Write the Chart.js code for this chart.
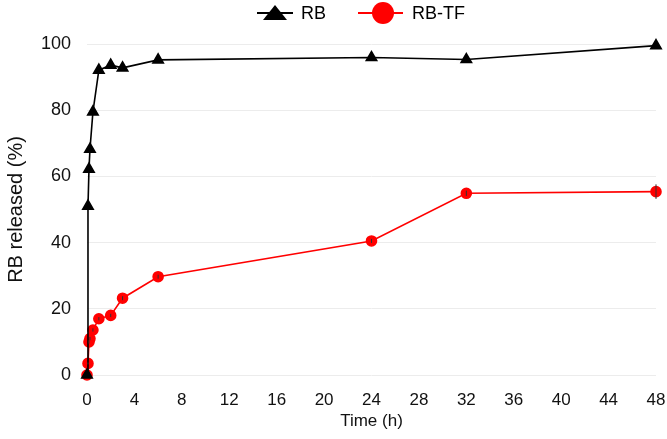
<!DOCTYPE html>
<html>
<head>
<meta charset="utf-8">
<script src="https://cdn.jsdelivr.net/npm/chart.js@4/dist/chart.umd.min.js"></script>
<style>
  html, body { margin: 0; padding: 0; background: #fff; }
  #wrap { width: 667px; height: 439px; }
</style>
</head>
<body>
<div id="wrap"><canvas id="release_chart"></canvas></div>
<script>
// sampling times (h)
const times = [0, 0.083, 0.167, 0.25, 0.5, 1, 2, 3, 6, 24, 32, 48];
const rb = [0, 51, 62.2, 68.2, 79.5, 92.1, 93.6, 92.8, 95.2, 95.9, 95.3, 99.5];
const rbTf = [0, 3.5, 10, 11, 13.6, 17, 18, 23.2, 29.7, 40.5, 54.9, 55.4];
const rbTfErr = [0, 0.3, 0.5, 0.5, 0.5, 0.5, 0.5, 0.6, 0.6, 0.6, 0.8, 2.2];
const xTicks = [0, 4, 8, 12, 16, 20, 24, 28, 32, 36, 40, 44, 48];
const yTicks = [0, 20, 40, 60, 80, 100];

const font = "'Liberation Sans', Arial, sans-serif";

function pts(xs, ys) {
  return xs.map((x, i) => ({ x: x, y: ys[i] }));
}

// error bars for RB-TF
const errorBars = {
  id: 'errorBars',
  afterDatasetsDraw(chart) {
    const ctx = chart.ctx;
    const xs = chart.scales.x, ys = chart.scales.y;
    ctx.save();
    ctx.strokeStyle = '#333';
    ctx.lineWidth = 1;
    times.forEach((t, i) => {
      const e = rbTfErr[i];
      if (!e) return;
      const px = xs.getPixelForValue(t);
      const top = ys.getPixelForValue(rbTf[i] + e);
      const bot = ys.getPixelForValue(rbTf[i] - e);
      ctx.beginPath();
      ctx.moveTo(px, top);
      ctx.lineTo(px, bot);
      ctx.stroke();
    });
    ctx.restore();
  }
};

// legend with line through marker
const lineLegend = {
  id: 'lineLegend',
  afterDraw(chart) {
    const ctx = chart.ctx;
    const y = 13;
    ctx.save();
    ctx.lineWidth = 2;
    ctx.font = '18px ' + font;
    ctx.textBaseline = 'middle';

    // RB
    ctx.strokeStyle = '#000';
    ctx.beginPath();
    ctx.moveTo(257, y);
    ctx.lineTo(293, y);
    ctx.stroke();
    ctx.fillStyle = '#000';
    ctx.beginPath();
    ctx.moveTo(275, y - 8);
    ctx.lineTo(287, y + 7);
    ctx.lineTo(263, y + 7);
    ctx.closePath();
    ctx.fill();
    ctx.fillText('RB', 301, y + 1);

    // RB-TF
    ctx.strokeStyle = '#ff0000';
    ctx.beginPath();
    ctx.moveTo(358, y);
    ctx.lineTo(403, y);
    ctx.stroke();
    ctx.fillStyle = '#ff0000';
    ctx.beginPath();
    ctx.arc(383, y, 11, 0, Math.PI * 2);
    ctx.fill();
    ctx.fillStyle = '#000';
    ctx.fillText('RB-TF', 412, y + 1);
    ctx.restore();
  }
};

const config = {
  type: 'scatter',
  data: {
    datasets: [
      {
        label: 'RB',
        data: pts(times, rb),
        showLine: true,
        clip: false,
        borderColor: '#000',
        backgroundColor: '#000',
        borderWidth: 1.6,
        pointStyle: 'triangle',
        pointRadius: 6,
        pointHoverRadius: 6
      },
      {
        label: 'RB-TF',
        data: pts(times, rbTf),
        showLine: true,
        clip: false,
        borderColor: '#ff0000',
        backgroundColor: '#ff0000',
        borderWidth: 1.6,
        pointStyle: 'circle',
        pointRadius: 5,
        pointHoverRadius: 5
      }
    ]
  },
  options: {
    responsive: true,
    maintainAspectRatio: false,
    animation: false,
    layout: { padding: { top: 44, right: 11, left: 0, bottom: 0 } },
    plugins: {
      legend: { display: false },
      tooltip: { enabled: false }
    },
    scales: {
      x: {
        type: 'linear',
        min: 0,
        max: 48,
        afterBuildTicks: s => { s.ticks = xTicks.map(v => ({ value: v })); },
        afterFit: s => { s.height = 64; s.paddingLeft = 0; s.paddingRight = 0; },
        grid: { display: false, drawTicks: false },
        border: { display: false },
        ticks: { color: '#111', font: { family: font, size: 17 }, padding: 15, maxRotation: 0 },
        title: { display: true, text: 'Time (h)', color: '#111', font: { family: font, size: 17 }, padding: { top: 0, bottom: 7 } }
      },
      y: {
        min: 0,
        max: 100,
        afterBuildTicks: s => { s.ticks = yTicks.map(v => ({ value: v })); },
        afterFit: s => { s.width = 87; },
        grid: { color: '#ececec', lineWidth: 1, drawTicks: false },
        border: { display: false },
        ticks: { color: '#111', font: { family: font, size: 18 }, padding: 16 },
        title: { display: true, text: 'RB released (%)', color: '#111', font: { family: font, size: 20 }, padding: { top: 4, bottom: 4 } }
      }
    }
  },
  plugins: [errorBars, lineLegend]
};

const release_chart = new Chart(document.getElementById('release_chart'), config);
</script>
</body>
</html>
